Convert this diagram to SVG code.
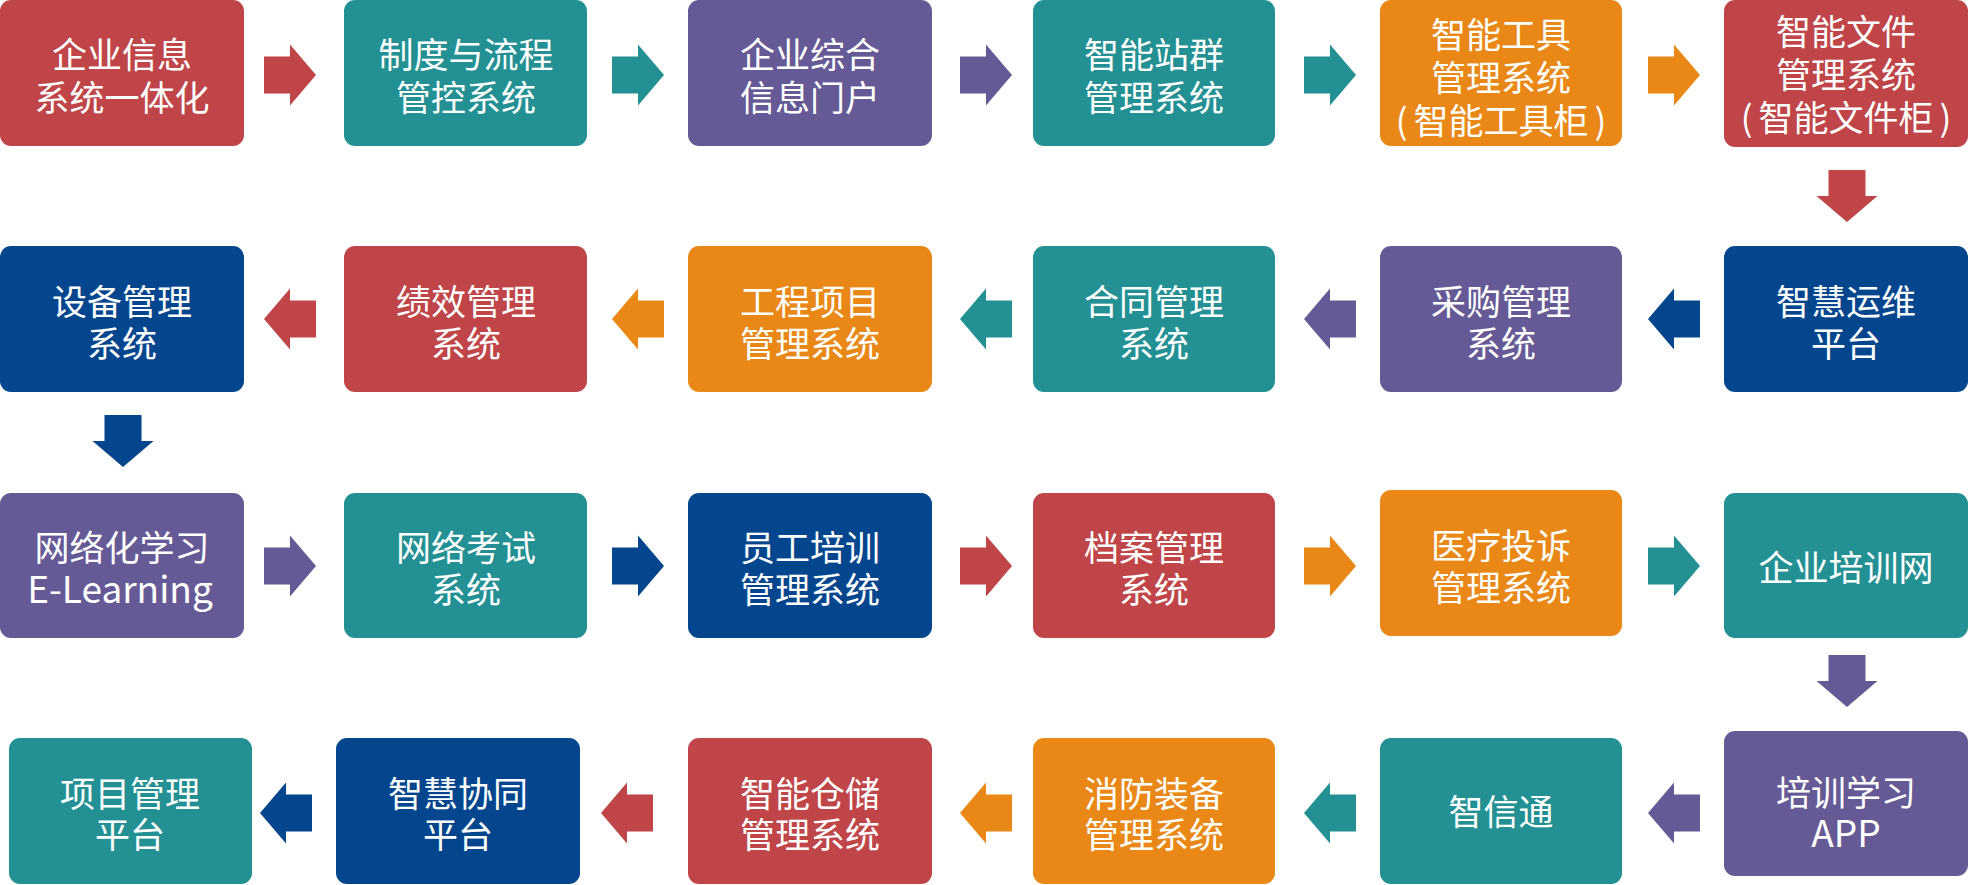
<svg xmlns="http://www.w3.org/2000/svg" xmlns:xlink="http://www.w3.org/1999/xlink" width="1972" height="885" viewBox="0 0 1972 885">
<style>
.red{fill:#BF4548}.teal{fill:#239194}.purple{fill:#665A96}.blue{fill:#03468E}.orange{fill:#E98816}
text{font-family:"Noto Sans CJK SC","Noto Sans",sans-serif;font-size:35px;fill:#FFFFFF;text-anchor:middle;dominant-baseline:central}
text.lat{font-size:37px}
</style>
<defs>
<polygon id="ar" points="-26,-18.5 0,-18.5 0,-30.5 26,0 0,30.5 0,18.5 -26,18.5"/>
</defs>
<rect width="1972" height="885" fill="#FFFFFF"/>
<g id="connectors">
<use href="#ar" class="red" transform="translate(290,75)"/>
<use href="#ar" class="teal" transform="translate(638,75)"/>
<use href="#ar" class="purple" transform="translate(986,75)"/>
<use href="#ar" class="teal" transform="translate(1330,75)"/>
<use href="#ar" class="orange" transform="translate(1674,75)"/>
<use href="#ar" class="red" transform="translate(1847,196) rotate(90)"/>
<use href="#ar" class="blue" transform="translate(1674,319) scale(-1,1)"/>
<use href="#ar" class="purple" transform="translate(1330,319) scale(-1,1)"/>
<use href="#ar" class="teal" transform="translate(986,319) scale(-1,1)"/>
<use href="#ar" class="orange" transform="translate(638,319) scale(-1,1)"/>
<use href="#ar" class="red" transform="translate(290,319) scale(-1,1)"/>
<use href="#ar" class="blue" transform="translate(123,441) rotate(90)"/>
<use href="#ar" class="purple" transform="translate(290,566)"/>
<use href="#ar" class="blue" transform="translate(638,566)"/>
<use href="#ar" class="red" transform="translate(986,566)"/>
<use href="#ar" class="orange" transform="translate(1330,566)"/>
<use href="#ar" class="teal" transform="translate(1674,566)"/>
<use href="#ar" class="purple" transform="translate(1847,681) rotate(90)"/>
<use href="#ar" class="purple" transform="translate(1674,813) scale(-1,1)"/>
<use href="#ar" class="teal" transform="translate(1330,813) scale(-1,1)"/>
<use href="#ar" class="orange" transform="translate(986,813) scale(-1,1)"/>
<use href="#ar" class="red" transform="translate(627,813) scale(-1,1)"/>
<use href="#ar" class="blue" transform="translate(286,813) scale(-1,1)"/>
</g>
<!-- Row 1 -->
<g id="n1"><rect class="red" x="0" y="0" width="244" height="146" rx="11"/><text x="122" y="52">企业信息</text><text x="122" y="95">系统一体化</text></g>
<g id="n2"><rect class="teal" x="344" y="0" width="243" height="146" rx="11"/><text x="466" y="52">制度与流程</text><text x="466" y="95">管控系统</text></g>
<g id="n3"><rect class="purple" x="688" y="0" width="244" height="146" rx="11"/><text x="810" y="52">企业综合</text><text x="810" y="95">信息门户</text></g>
<g id="n4"><rect class="teal" x="1033" y="0" width="242" height="146" rx="11"/><text x="1154" y="52">智能站群</text><text x="1154" y="95">管理系统</text></g>
<g id="n5"><rect class="orange" x="1380" y="0" width="242" height="146" rx="11"/><text x="1501" y="32">智能工具</text><text x="1501" y="75">管理系统</text><text x="1501" y="118">(<tspan dx="6">智能工具柜</tspan><tspan dx="6">)</tspan></text></g>
<g id="n6"><rect class="red" x="1724" y="0" width="244" height="147" rx="11"/><text x="1846" y="29">智能文件</text><text x="1846" y="72">管理系统</text><text x="1846" y="115">(<tspan dx="6">智能文件柜</tspan><tspan dx="6">)</tspan></text></g>
<!-- Row 2 -->
<g id="n7"><rect class="blue" x="0" y="246" width="244" height="146" rx="11"/><text x="122" y="299">设备管理</text><text x="122" y="341">系统</text></g>
<g id="n8"><rect class="red" x="344" y="246" width="243" height="146" rx="11"/><text x="466" y="299">绩效管理</text><text x="466" y="341">系统</text></g>
<g id="n9"><rect class="orange" x="688" y="246" width="244" height="146" rx="11"/><text x="810" y="299">工程项目</text><text x="810" y="341">管理系统</text></g>
<g id="n10"><rect class="teal" x="1033" y="246" width="242" height="146" rx="11"/><text x="1154" y="299">合同管理</text><text x="1154" y="341">系统</text></g>
<g id="n11"><rect class="purple" x="1380" y="246" width="242" height="146" rx="11"/><text x="1501" y="299">采购管理</text><text x="1501" y="341">系统</text></g>
<g id="n12"><rect class="blue" x="1724" y="246" width="244" height="146" rx="11"/><text x="1846" y="299">智慧运维</text><text x="1846" y="341">平台</text></g>
<!-- Row 3 -->
<g id="n13"><rect class="purple" x="0" y="493" width="244" height="145" rx="11"/><text x="122" y="545">网络化学习</text><text class="lat" x="120" y="587">E-Learning</text></g>
<g id="n14"><rect class="teal" x="344" y="493" width="243" height="145" rx="11"/><text x="466" y="545">网络考试</text><text x="466" y="587">系统</text></g>
<g id="n15"><rect class="blue" x="688" y="493" width="244" height="145" rx="11"/><text x="810" y="545">员工培训</text><text x="810" y="587">管理系统</text></g>
<g id="n16"><rect class="red" x="1033" y="493" width="242" height="145" rx="11"/><text x="1154" y="545">档案管理</text><text x="1154" y="587">系统</text></g>
<g id="n17"><rect class="orange" x="1380" y="490" width="242" height="146" rx="11"/><text x="1501" y="543">医疗投诉</text><text x="1501" y="585">管理系统</text></g>
<g id="n18"><rect class="teal" x="1724" y="493" width="244" height="145" rx="11"/><text x="1846" y="565">企业培训网</text></g>
<!-- Row 4 -->
<g id="n19"><rect class="teal" x="9" y="738" width="243" height="146" rx="11"/><text x="130" y="791">项目管理</text><text x="130" y="832">平台</text></g>
<g id="n20"><rect class="blue" x="336" y="738" width="244" height="146" rx="11"/><text x="458" y="791">智慧协同</text><text x="458" y="832">平台</text></g>
<g id="n21"><rect class="red" x="688" y="738" width="244" height="146" rx="11"/><text x="810" y="791">智能仓储</text><text x="810" y="832">管理系统</text></g>
<g id="n22"><rect class="orange" x="1033" y="738" width="242" height="146" rx="11"/><text x="1154" y="791">消防装备</text><text x="1154" y="832">管理系统</text></g>
<g id="n23"><rect class="teal" x="1380" y="738" width="242" height="146" rx="11"/><text x="1501" y="809">智信通</text></g>
<g id="n24"><rect class="purple" x="1724" y="731" width="244" height="145" rx="11"/><text x="1846" y="790">培训学习</text><text class="lat" x="1846" y="831">APP</text></g>
</svg>
